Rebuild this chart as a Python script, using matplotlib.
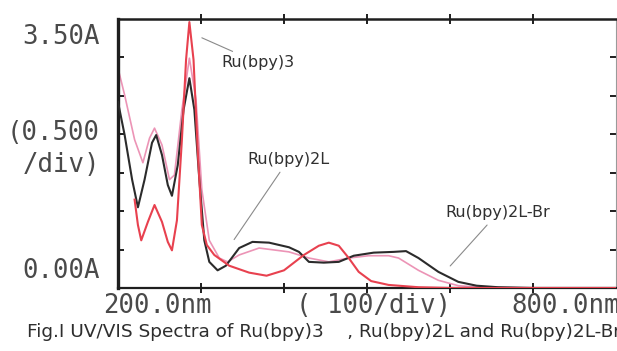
import numpy as np
import matplotlib.pyplot as plt

# ---- data (wavelength nm, absorbance A) ----
wl_ru2l = [200, 208, 217, 224, 232, 241, 246, 253, 260, 265, 272, 279, 286, 292, 298,
           304, 310, 320, 330, 346, 362, 382, 406, 418, 430, 448, 466, 484, 508, 532,
           547, 562, 586, 610, 632, 658, 700, 800]
a_ru2l = [2.42, 1.99, 1.41, 1.05, 1.41, 1.89, 1.99, 1.73, 1.34, 1.20, 1.60, 2.32, 2.73, 2.32, 1.41,
          0.62, 0.34, 0.23, 0.29, 0.52, 0.60, 0.59, 0.53, 0.47, 0.34, 0.33, 0.34, 0.42, 0.46, 0.47,
          0.48, 0.39, 0.21, 0.08, 0.03, 0.01, 0.0, 0.0]

wl_ru2lbr = [200, 208, 220, 230, 238, 244, 253, 262, 268, 277, 286, 294, 301, 310, 322,
             332, 346, 370, 406, 430, 454, 478, 502, 526, 538, 562, 586, 610, 634, 700, 800]
a_ru2lbr = [2.86, 2.51, 1.93, 1.63, 1.95, 2.08, 1.86, 1.41, 1.47, 2.32, 2.99, 2.45, 1.28, 0.62, 0.39,
            0.34, 0.43, 0.52, 0.47, 0.39, 0.34, 0.39, 0.42, 0.42, 0.39, 0.23, 0.10, 0.03, 0.01, 0.0, 0.0]

wl_ru3 = [220, 224, 228, 236, 244, 253, 260, 265, 271, 277, 282, 286, 291, 296, 301,
          307, 316, 334, 358, 379, 400, 424, 442, 454, 466, 478, 490, 505, 526, 562, 600, 800]
a_ru3 = [1.15, 0.82, 0.62, 0.86, 1.08, 0.86, 0.60, 0.49, 0.88, 1.93, 2.97, 3.46, 2.97, 1.80, 0.82,
         0.56, 0.43, 0.29, 0.20, 0.16, 0.23, 0.43, 0.55, 0.59, 0.55, 0.39, 0.21, 0.09, 0.04, 0.01, 0.0, 0.0]

W, H = 617, 351
fig = plt.figure(figsize=(W / 100, H / 100), dpi=100)
fig.patch.set_facecolor("white")

# axes box in pixel terms: left 118, right 616, top 19, bottom 288
ax = fig.add_axes([118 / W, 1 - 288 / H, (616 - 118) / W, (288 - 19) / H])
ax.set_xlim(200, 800)
ax.set_ylim(0, 3.5)

ax.plot(wl_ru2lbr, a_ru2lbr, color="#ec94b6", lw=1.2, zorder=2)
ax.plot(wl_ru2l, a_ru2l, color="#2b2b2b", lw=1.5, zorder=3)
ax.plot(wl_ru3, a_ru3, color="#e8414f", lw=1.5, zorder=4)

# spines
for side, lw in {"left": 2.4, "bottom": 1.6, "top": 1.8, "right": 0.8}.items():
    ax.spines[side].set_linewidth(lw)
    ax.spines[side].set_color("#1e1e1e")
ax.spines["right"].set_color("#9a9a9a")

ax.set_xticks([300, 400, 500, 600, 700])
ax.set_yticks([0.5, 1.0, 1.5, 2.0, 2.5, 3.0])
ax.tick_params(axis="y", direction="in", length=4, width=1.4, left=True, right=True,
               labelleft=False, color="#1e1e1e")
ax.tick_params(axis="x", direction="inout", length=7, width=1.4, top=True, bottom=True,
               labelbottom=False, color="#1e1e1e")

# leader labels
lab = dict(fontsize=11.5, color="#303030", family="DejaVu Sans", va="center")
line = dict(arrowstyle="-", color="#8a8a8a", lw=0.8)
ax.annotate("Ru(bpy)3", xy=(298, 3.27), xytext=(325, 2.93), arrowprops=line, **lab)
ax.annotate("Ru(bpy)2L", xy=(338, 0.60), xytext=(356, 1.67), arrowprops=line, **lab)
ax.annotate("Ru(bpy)2L-Br", xy=(598, 0.26), xytext=(595, 0.98), arrowprops=line, **lab)

# instrument-style scale texts
mono = dict(family="DejaVu Sans Mono", fontsize=18.5, color="#4a4a4a", va="center")
fig.text(100 / W, 1 - 37 / H, "3.50A", ha="right", **mono)
fig.text(100 / W, 1 - 133 / H, "(0.500", ha="right", **mono)
fig.text(100 / W, 1 - 165 / H, "/div)", ha="right", **mono)
fig.text(100 / W, 1 - 271 / H, "0.00A", ha="right", **mono)
fig.text(103 / W, 1 - 306 / H, "200.0nm", ha="left", **mono)
fig.text(296 / W, 1 - 306 / H, "( 100/div)", ha="left", **mono)
fig.text(511 / W, 1 - 306 / H, "800.0nm", ha="left", **mono)

fig.text(27 / W, 1 - 332 / H,
         "Fig.I UV/VIS Spectra of Ru(bpy)3    , Ru(bpy)2L and Ru(bpy)2L-Br",
         ha="left", va="center", fontsize=13.3, color="#2e2e2e", family="DejaVu Sans")

fig.savefig("out.png", dpi=100, facecolor="white")
